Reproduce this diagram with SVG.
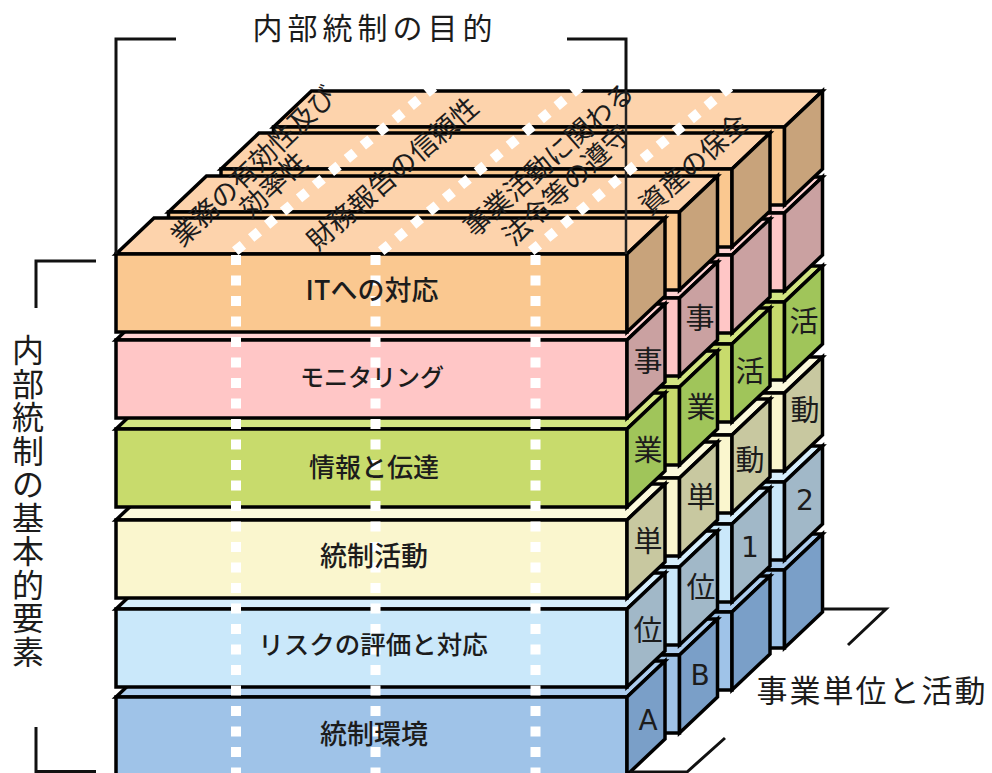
<svg xmlns="http://www.w3.org/2000/svg" width="992" height="773" viewBox="0 0 992 773">
<style>
text{font-family:"Noto Sans CJK JP","Liberation Sans",sans-serif;fill:#1c1c1c;text-anchor:middle}
.s{stroke:#000;stroke-width:3.500;stroke-linejoin:miter}
.t{fill:var(--t)}.f{fill:var(--f)}.d{fill:var(--d)}
.it{--t:#FDD3AC;--f:#FAC890;--d:#C8A37B}
.mo{--t:#FFD2D2;--f:#FFC6C6;--d:#CAA1A1}
.in{--t:#D3E582;--f:#C8DB6C;--d:#A0C55A}
.co{--t:#FBF9DC;--f:#FAF6CE;--d:#C8C8A0}
.ri{--t:#D6EEFC;--f:#CAE8FA;--d:#A1B8C8}
.en{--t:#ADCDEE;--f:#9FC3E8;--d:#7A9FC8}
.br{fill:none;stroke:#111;stroke-width:3}
.th{fill:none;stroke:#222;stroke-width:2.500}
.dv{fill:none;stroke:#fff;stroke-width:10;stroke-dasharray:10 10.500}
.dg{fill:none;stroke:#fff;stroke-width:10;stroke-dasharray:10 10.700}
.lb{font-weight:500}
.cl{font-size:29px}
.la{font-size:28px;font-family:"DejaVu Sans",sans-serif}
.ro{font-size:27px}
.hd{font-size:30px;letter-spacing:5px}
</style>
<defs>
<g id="slab">
<polygon class="s t" points="0,0 38,-36 549,-36 511,0"/>
<rect class="s f" x="0" y="0" width="511" height="78"/>
<polygon class="s d" points="511,0 549,-36 549,42 511,78"/>
</g>
</defs>
<g id="rear-row">
<g id="r3-en" class="en"><use href="#slab" x="273.500" y="570"/></g>
<g id="r3-ri" class="ri"><use href="#slab" x="273.500" y="482"/></g>
<g id="r3-co" class="co"><use href="#slab" x="273.500" y="393"/></g>
<g id="r3-in" class="in"><use href="#slab" x="273.500" y="302"/></g>
<g id="r3-mo" class="mo"><use href="#slab" x="273.500" y="213"/></g>
<g id="r3-it" class="it"><use href="#slab" x="273.500" y="127"/></g>
</g>
<g id="row-2">
<g id="r2-en" class="en"><use href="#slab" x="221" y="612"/></g>
<g id="r2-ri" class="ri"><use href="#slab" x="221" y="524"/></g>
<g id="r2-co" class="co"><use href="#slab" x="221" y="435"/></g>
<g id="r2-in" class="in"><use href="#slab" x="221" y="344"/></g>
<g id="r2-mo" class="mo"><use href="#slab" x="221" y="255"/></g>
<g id="r2-it" class="it"><use href="#slab" x="221" y="169"/></g>
</g>
<g id="row-1">
<g id="r1-en" class="en"><use href="#slab" x="168.500" y="655"/></g>
<g id="r1-ri" class="ri"><use href="#slab" x="168.500" y="567"/></g>
<g id="r1-co" class="co"><use href="#slab" x="168.500" y="478"/></g>
<g id="r1-in" class="in"><use href="#slab" x="168.500" y="387"/></g>
<g id="r1-mo" class="mo"><use href="#slab" x="168.500" y="298"/></g>
<g id="r1-it" class="it"><use href="#slab" x="168.500" y="212"/></g>
</g>
<g id="front-row">
<g id="r0-en" class="en"><use href="#slab" x="116" y="697"/></g>
<g id="r0-ri" class="ri"><use href="#slab" x="116" y="609"/></g>
<g id="r0-co" class="co"><use href="#slab" x="116" y="520"/></g>
<g id="r0-in" class="in"><use href="#slab" x="116" y="429"/></g>
<g id="r0-mo" class="mo"><use href="#slab" x="116" y="340"/></g>
<g id="r0-it" class="it"><use href="#slab" x="116" y="254"/></g>
</g>
<g id="connectors">
<path class="br" d="M176 39H116V254M567 39H626V90"/>
<path class="th" d="M626 90V254"/>
<path class="br" d="M96 261H36V308M36 727V771.500H96"/>
<path class="br" d="M823 609H886L848 645M725 738L687 772H630"/>
<path class="dv" d="M236 255V773M375.500 255V773M535.500 255V773"/>
<path class="dg" d="M235.200 251.200L434 86.800M381.200 251.200L580 86.800M531.200 251.200L730 86.800"/>
</g>
<g id="labels">
<text class="hd" x="375" y="39">内部統制の目的</text>
<text x="28 28 28 28 28 28 28 28 28 28" y="362 396 429 463 496 530 563 597 630 664" style="font-size:32px">内部統制の基本的要素</text>
<text class="lb" style="font-size:27px" x="372" y="300">ITへの対応</text>
<text class="lb" style="font-size:24px" x="372" y="386">モニタリング</text>
<text class="lb" style="font-size:26px" x="374" y="477">情報と伝達</text>
<text class="lb" style="font-size:27px" x="374" y="566">統制活動</text>
<text class="lb" style="font-size:25.500px" x="373" y="654">リスクの評価と対応</text>
<text class="lb" style="font-size:27px" x="374" y="744">統制環境</text>
<text class="cl" x="648" y="372">事</text>
<text class="cl" x="648" y="461">業</text>
<text class="cl" x="648" y="552">単</text>
<text class="cl" x="648" y="641">位</text>
<text class="la" x="648" y="730">A</text>
<text class="cl" x="700" y="329">事</text>
<text class="cl" x="701" y="418">業</text>
<text class="cl" x="701" y="508">単</text>
<text class="cl" x="701" y="598">位</text>
<text class="la" x="700" y="685">B</text>
<text class="la" x="750" y="557">1</text>
<text class="cl" x="750" y="382">活</text>
<text class="cl" x="750" y="471">動</text>
<text class="cl" x="804" y="332">活</text>
<text class="cl" x="805" y="421">動</text>
<text class="la" x="805" y="510">2</text>
<text class="hd" style="font-size:31px;letter-spacing:2px" x="872" y="702">事業単位と活動</text>
<text class="ro" transform="translate(260,173) rotate(-44)">業務の有効性及び</text>
<text class="ro" transform="translate(280,192) rotate(-43)">効率性</text>
<text class="ro" transform="translate(399,181) rotate(-41)">財務報告の信頼性</text>
<text class="ro" transform="translate(555,167) rotate(-41.500)">事業活動に関わる</text>
<text class="ro" transform="translate(573,192) rotate(-43)">法令等の遵守</text>
<text class="ro" transform="translate(700,171) rotate(-42)">資産の保全</text>
</g>
</svg>
